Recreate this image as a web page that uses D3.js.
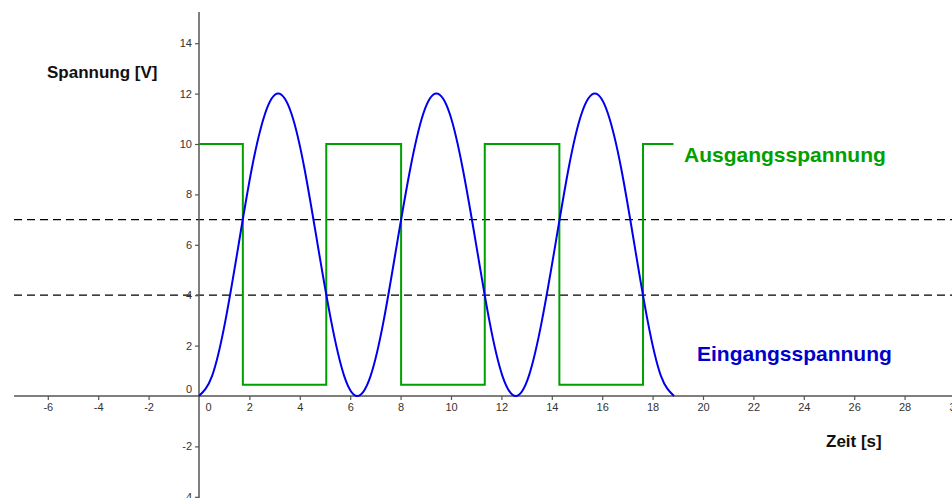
<!DOCTYPE html>
<html>
<head>
<meta charset="utf-8">
<script src="https://cdn.jsdelivr.net/npm/d3@7"></script>
<style>
  html, body { margin: 0; padding: 0; background: #fff; }
  svg { display: block; font-family: "Liberation Sans", Arial, sans-serif; }
</style>
</head>
<body>
<svg id="chart" width="952" height="498"></svg>
<script>
// ---- Data ----
const xTickValues = [-6, -4, -2, 0, 2, 4, 6, 8, 10, 12, 14, 16, 18, 20, 22, 24, 26, 28, 30];
const yTickValues = [-4, -2, 0, 2, 4, 6, 8, 10, 12, 14];

// Eingangsspannung (input voltage), sampled from the curve
const inputTime = [0, 0.52, 1.05, 1.57, 2.09, 2.62, 3.14, 3.67, 4.19, 4.71, 5.24, 5.76,
  6.28, 6.81, 7.33, 7.85, 8.38, 8.90, 9.42, 9.95, 10.47, 11.00, 11.52, 12.04,
  12.57, 13.09, 13.61, 14.14, 14.66, 15.18, 15.71, 16.23, 16.76, 17.28, 17.80, 18.33, 18.85];
const inputVoltage = [0, 0.80, 3.0, 6.0, 9.0, 11.2, 12.0, 11.2, 9.0, 6.0, 3.0, 0.80,
  0, 0.80, 3.0, 6.0, 9.0, 11.2, 12.0, 11.2, 9.0, 6.0, 3.0, 0.80,
  0, 0.80, 3.0, 6.0, 9.0, 11.2, 12.0, 11.2, 9.0, 6.0, 3.0, 0.80, 0];

// Ausgangsspannung (output voltage), square wave switching times and levels
const outputTime = [0, 1.74, 5.05, 8.02, 11.34, 14.30, 17.62, 18.83];
const outputVoltage = [10, 0.45, 10, 0.45, 10, 0.45, 10, 10];

// Threshold levels (dashed)
const thresholds = [7, 4];

// ---- Layout ----
const W = 952, H = 498;
const unit = 25.2;          // pixels per unit
const ox = 199, oy = 396;   // origin in pixels

const x = d3.scaleLinear().domain([-ox / unit, (W - ox) / unit]).range([0, W]);
const y = d3.scaleLinear().domain([oy / unit, -(H - oy) / unit]).range([0, H]);

const svg = d3.select("#chart");

const axisColor = "#555";
const labelColor = "#333";
const fmt = d => String(d);   // plain hyphen minus, as in the reference

// threshold dashed lines
svg.selectAll("line.thr").data(thresholds).enter().append("line")
  .attr("class", "thr")
  .attr("x1", 14).attr("x2", W)
  .attr("y1", d => y(d)).attr("y2", d => y(d))
  .attr("stroke", "#000").attr("stroke-width", 1.2)
  .attr("stroke-dasharray", "8,5");

// x axis
const xAxis = d3.axisBottom(x).tickValues(xTickValues).tickSize(4).tickPadding(3)
  .tickFormat(fmt);
const gx = svg.append("g").attr("transform", `translate(0,${oy})`).call(xAxis);
gx.select(".domain").remove();
gx.selectAll(".tick line").attr("stroke", axisColor).attr("stroke-width", 1.2)
  .attr("display", d => d === 0 ? "none" : null);
gx.selectAll(".tick text").attr("fill", labelColor).attr("font-size", 11)
  .attr("font-family", "Liberation Sans, Arial, sans-serif")
  .attr("dx", d => d === 0 ? 9 : 0);

// y axis
const yAxis = d3.axisLeft(y).tickValues(yTickValues).tickSize(4).tickPadding(3)
  .tickFormat(fmt);
const gy = svg.append("g").attr("transform", `translate(${ox},0)`).call(yAxis);
gy.select(".domain").remove();
gy.selectAll(".tick line").attr("stroke", axisColor).attr("stroke-width", 1.2)
  .attr("display", d => d === 0 ? "none" : null);
gy.selectAll(".tick text").attr("fill", labelColor).attr("font-size", 11)
  .attr("font-family", "Liberation Sans, Arial, sans-serif")
  .attr("dy", d => d === 0 ? "-0.3em" : "0.32em");

// axis lines
svg.append("line").attr("x1", 14).attr("x2", W).attr("y1", oy).attr("y2", oy)
  .attr("stroke", axisColor).attr("stroke-width", 1.5);
svg.append("line").attr("x1", ox).attr("x2", ox).attr("y1", 12).attr("y2", H)
  .attr("stroke", axisColor).attr("stroke-width", 1.5);

// output (green) step line
const outData = outputTime.map((t, i) => [t, outputVoltage[i]]);
svg.append("path").datum(outData)
  .attr("fill", "none").attr("stroke", "#00a000").attr("stroke-width", 2)
  .attr("d", d3.line().x(d => x(d[0])).y(d => y(d[1])).curve(d3.curveStepAfter));

// input (blue) curve
const inData = inputTime.map((t, i) => [t, inputVoltage[i]]);
svg.append("path").datum(inData)
  .attr("fill", "none").attr("stroke", "#0000ee").attr("stroke-width", 2)
  .attr("d", d3.line().x(d => x(d[0])).y(d => y(d[1])).curve(d3.curveNatural));

// texts
svg.append("text").attr("x", 47).attr("y", 78).text("Spannung [V]")
  .attr("font-size", 17).attr("font-weight", "bold").attr("fill", "#111");
svg.append("text").attr("x", 826).attr("y", 447).text("Zeit [s]")
  .attr("font-size", 17).attr("font-weight", "bold").attr("fill", "#111");
svg.append("text").attr("x", 684).attr("y", 162).text("Ausgangsspannung")
  .attr("font-size", 21).attr("font-weight", "bold").attr("fill", "#00a000");
svg.append("text").attr("x", 697).attr("y", 361).text("Eingangsspannung")
  .attr("font-size", 21).attr("font-weight", "bold").attr("fill", "#0000cc");
</script>
</body>
</html>
